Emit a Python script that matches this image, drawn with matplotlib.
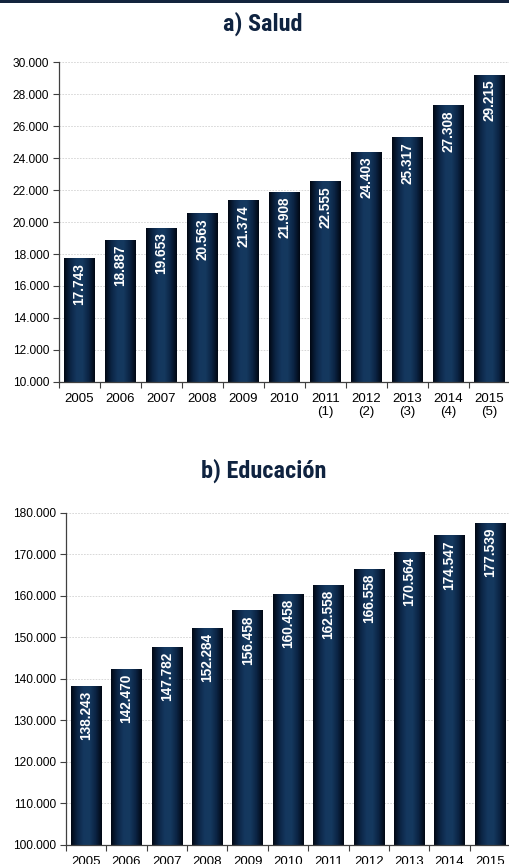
import matplotlib
matplotlib.use('Agg')
import matplotlib.pyplot as plt
import numpy as np
from matplotlib.colors import LinearSegmentedColormap
from matplotlib.patches import Rectangle
from matplotlib.ticker import FuncFormatter, MultipleLocator
from matplotlib import font_manager

# data
years = ['2005', '2006', '2007', '2008', '2009', '2010', '2011', '2012', '2013', '2014', '2015']
notes_top = ['', '', '', '', '', '', '(1)', '(2)', '(3)', '(4)', '(5)']
salud = [17743, 18887, 19653, 20563, 21374, 21908, 22555, 24403, 25317, 27308, 29215]
educacion = [138243, 142470, 147782, 152284, 156458, 160458, 162558, 166558, 170564, 174547, 177539]

plt.rcParams['font.family'] = ['Liberation Sans', 'DejaVu Sans']

# narrow face for the titles, if one is around
names = {f.name for f in font_manager.fontManager.ttflist}
title_font = 'DejaVu Sans'
for cand in ['Roboto Condensed', 'Liberation Sans Narrow', 'DejaVu Sans Condensed', 'Roboto']:
    if cand in names:
        title_font = cand
        break

navy = '#0f2340'
bar_cmap = LinearSegmentedColormap.from_list(
    'bar', ['#010814', '#0b2444', '#14375e', '#15395f', '#0b2444', '#010814'])
grad = np.linspace(0, 1, 64).reshape(1, -1)


def thousands(v, pos):
    return f'{int(v):,}'.replace(',', '.')


def draw_panel(ax, values, labels, ymin, ymax, step):
    x = np.arange(len(values))
    bars = ax.bar(x, [v - ymin for v in values], bottom=ymin, width=0.75,
                  color='none', edgecolor='none', zorder=2)
    for b in bars:
        x0, y0 = b.get_x(), b.get_y()
        im = ax.imshow(grad, cmap=bar_cmap, aspect='auto', zorder=2,
                       extent=[x0, x0 + b.get_width(), y0, y0 + b.get_height()])
        im.set_clip_path(b)
    for xi, v in zip(x, values):
        ax.annotate(thousands(v, None), (xi, v), xytext=(0, -3.5), textcoords='offset points',
                    ha='center', va='top', rotation=90, color='white',
                    fontsize=9.8, fontweight='bold', zorder=3)
    ax.set_xlim(-0.5, len(values) - 0.5)
    ax.set_ylim(ymin, ymax)
    ax.yaxis.set_major_locator(MultipleLocator(step))
    ax.yaxis.set_major_formatter(FuncFormatter(thousands))
    ax.set_xticks(x)
    ax.set_xticklabels(labels, fontsize=9.5, linespacing=1.15)
    ax.set_xticks(np.arange(len(values) + 1) - 0.5, minor=True)
    ax.tick_params(axis='x', which='major', length=0, pad=8)
    ax.tick_params(axis='x', which='minor', length=4, width=0.8, color='#404040')
    ax.tick_params(axis='y', length=4, width=0.8, color='#404040', labelsize=8.6, pad=3)
    ax.grid(axis='y', color='#d2d2d2', linestyle=(0, (2, 1.5)), linewidth=0.6, zorder=0)
    ax.set_axisbelow(True)
    for s in ['top', 'right']:
        ax.spines[s].set_visible(False)
    for s in ['left', 'bottom']:
        ax.spines[s].set_color('#404040')
        ax.spines[s].set_linewidth(0.9)


fig = plt.figure(figsize=(5.1, 8.64), dpi=100, facecolor='white')

ax1 = fig.add_axes([0.1157, 0.5582, 0.8843, 0.3695])
top_labels = [y if n == '' else f'{y}\n{n}' for y, n in zip(years, notes_top)]
draw_panel(ax1, salud, top_labels, 10000, 30000, 2000)

ax2 = fig.add_axes([0.1294, 0.022, 0.8706, 0.3846])
draw_panel(ax2, educacion, years, 100000, 180000, 10000)

fig.text(0.516, 0.972, 'a) Salud', ha='center', va='center', fontsize=17.5,
         fontweight='bold', color=navy, family=title_font)
fig.text(0.518, 0.455, 'b) Educación', ha='center', va='center', fontsize=17.5,
         fontweight='bold', color=navy, family=title_font)

# dark rule along the top edge
fig.add_artist(Rectangle((0, 0.9965), 1, 0.0035, transform=fig.transFigure,
                         facecolor='#13243d', edgecolor='none'))

fig.savefig('out.png', dpi=100, facecolor='white')
